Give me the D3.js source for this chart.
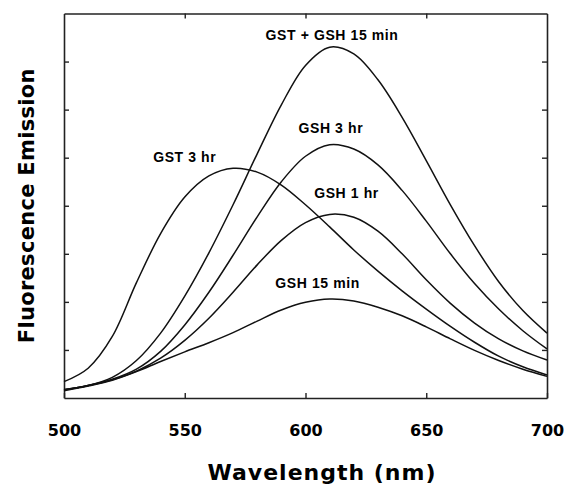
<!DOCTYPE html>
<html>
<head>
<meta charset="utf-8">
<script src="https://cdn.jsdelivr.net/npm/d3@7"></script>
<style>
  body { margin: 0; background: #fff; }
</style>
</head>
<body>
<div id="chart"></div>
<script>
const margin = {top: 13.5, right: 18, bottom: 88, left: 64},
    width = 565 - margin.left - margin.right,
    height = 486 - margin.top - margin.bottom;

// data (emission in tick units)
const wavelengths = [500, 510, 520, 530, 540, 550, 560, 570, 580, 590, 600,
                     610, 620, 630, 640, 650, 660, 670, 680, 690, 700];
const gstGsh15min = [0.17, 0.26, 0.43, 0.78, 1.35, 2.12, 3.02, 4.02, 5.08, 6.10, 6.92,
                     7.30, 7.16, 6.62, 5.84, 4.94, 4.02, 3.17, 2.42, 1.82, 1.35];
const gsh3hr      = [0.17, 0.26, 0.39, 0.60, 0.97, 1.52, 2.20, 2.97, 3.77, 4.50, 5.03,
                     5.27, 5.18, 4.85, 4.32, 3.68, 3.00, 2.38, 1.85, 1.40, 1.02];
const gsh1hr      = [0.17, 0.26, 0.38, 0.56, 0.83, 1.20, 1.66, 2.20, 2.77, 3.28, 3.65,
                     3.82, 3.76, 3.47, 3.00, 2.46, 1.97, 1.56, 1.23, 0.98, 0.79];
const gsh15min    = [0.15, 0.25, 0.37, 0.55, 0.76, 0.96, 1.15, 1.36, 1.60, 1.83, 1.99,
                     2.06, 2.02, 1.89, 1.71, 1.48, 1.23, 0.99, 0.78, 0.60, 0.45];
const gst3hr      = [0.34, 0.62, 1.28, 2.40, 3.42, 4.18, 4.62, 4.78, 4.70, 4.43, 4.02,
                     3.56, 3.08, 2.64, 2.23, 1.85, 1.49, 1.16, 0.87, 0.65, 0.48];

const xTicks = [500, 550, 600, 650, 700];
const yTicks = [1, 2, 3, 4, 5, 6, 7];

// label text and where it sits (wavelength, value of baseline)
const labels = [
  {text: "GST + GSH 15 min", at: [611, 7.45]},
  {text: "GSH 3 hr",          at: [610.5, 5.52]},
  {text: "GSH 1 hr",          at: [617, 4.17]},
  {text: "GST 3 hr",          at: [550, 4.92]},
  {text: "GSH 15 min",        at: [605, 2.29]}
];

const series = [gstGsh15min, gsh3hr, gsh1hr, gsh15min, gst3hr];

const svg = d3.select("#chart")
  .append("svg")
    .attr("width", width + margin.left + margin.right)
    .attr("height", height + margin.top + margin.bottom)
  .append("g")
    .attr("transform", "translate(" + margin.left + "," + margin.top + ")");

const x = d3.scaleLinear()
  .domain([500, 700])
  .range([0, width]);

const y = d3.scaleLinear()
  .domain([0, 8])
  .range([height, 0]);

// frame and inward ticks
svg.append("g")
  .attr("class", "axis")
  .attr("transform", "translate(0," + height + ")")
  .call(d3.axisBottom(x).tickValues(xTicks).tickSizeInner(-5).tickSizeOuter(0).tickPadding(27))
  .call(g => g.selectAll("text")
    .style("font-family", "DejaVu Sans")
    .style("font-weight", "bold")
    .style("font-size", "16px")
    .attr("fill", "#000"));

svg.append("g")
  .attr("class", "axis")
  .call(d3.axisTop(x).tickValues(xTicks.slice(1, -1)).tickSizeInner(-5).tickSizeOuter(0).tickFormat(""));

svg.append("g")
  .attr("class", "axis")
  .call(d3.axisLeft(y).tickValues(yTicks).tickSizeInner(-5).tickSizeOuter(0).tickFormat(""));

svg.append("g")
  .attr("class", "axis")
  .attr("transform", "translate(" + width + ",0)")
  .call(d3.axisRight(y).tickValues(yTicks).tickSizeInner(-5).tickSizeOuter(0).tickFormat(""));

svg.selectAll(".axis path").attr("stroke", "#222").attr("stroke-width", 1.6);
svg.selectAll(".axis line").attr("stroke", "#222").attr("stroke-width", 1.4);

// curves
const line = d3.line()
  .x((d, i) => x(wavelengths[i]))
  .y(d => y(d))
  .curve(d3.curveCatmullRom.alpha(0.5));

svg.append("g")
  .selectAll("path")
  .data(series)
  .enter()
  .append("path")
    .attr("d", line)
    .attr("fill", "none")
    .attr("stroke", "#111")
    .attr("stroke-width", 1.5);

// curve labels
svg.append("g")
  .selectAll("text")
  .data(labels)
  .enter()
  .append("text")
    .attr("x", d => x(d.at[0]))
    .attr("y", d => y(d.at[1]))
    .attr("text-anchor", "middle")
    .style("font-family", "Liberation Sans, Arial, sans-serif")
    .style("font-weight", "bold")
    .style("font-size", "14px")
    .style("letter-spacing", "0.6px")
    .text(d => d.text);

// axis titles
svg.append("text")
  .attr("x", 258)
  .attr("y", height + 82)
  .attr("text-anchor", "middle")
  .style("font-family", "DejaVu Sans")
  .style("font-weight", "bold")
  .style("font-size", "22px")
  .style("letter-spacing", "1px")
  .text("Wavelength (nm)");

svg.append("text")
  .attr("transform", "translate(" + (-30) + "," + (height / 2) + ") rotate(-90)")
  .attr("text-anchor", "middle")
  .style("font-family", "DejaVu Sans")
  .style("font-weight", "bold")
  .style("font-size", "21px")
  .style("letter-spacing", "0.3px")
  .text("Fluorescence Emission");
</script>
</body>
</html>
